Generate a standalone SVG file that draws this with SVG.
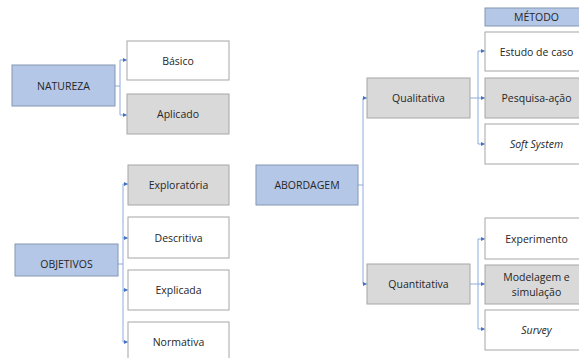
<svg xmlns="http://www.w3.org/2000/svg" width="579" height="358" viewBox="0 0 579 358">
<style>
.b{fill:#B4C7E7;stroke:#8497B0;stroke-width:1}
.g{fill:#D9D9D9;stroke:#A6A6A6;stroke-width:1}
.w{fill:#FFFFFF;stroke:#A6A6A6;stroke-width:1}
text{font-family:"Open Sans","Liberation Sans",sans-serif;font-size:10.5px;fill:#262626;text-anchor:middle;dominant-baseline:central}
.i{font-style:italic}
.c{fill:none;stroke:#8FAADC;stroke-width:1}
</style>
<defs>
<marker id="a" viewBox="0 0 6 6" refX="6" refY="3" markerWidth="4" markerHeight="4" orient="auto"><path d="M0,0 L6,3 L0,6 Z" fill="#4472C4"/></marker>
</defs>
<rect width="579" height="358" fill="#FFFFFF"/>
<g id="connectors">
<path class="c" d="M115,86 H120"/>
<path class="c" d="M120,60 V115"/>
<path class="c" d="M120,60 H127" marker-end="url(#a)"/>
<path class="c" d="M120,115 H127" marker-end="url(#a)"/>
<path class="c" d="M118,264 H123"/>
<path class="c" d="M123,184 V342"/>
<path class="c" d="M123,184 H128" marker-end="url(#a)"/>
<path class="c" d="M123,238 H128" marker-end="url(#a)"/>
<path class="c" d="M123,290 H128" marker-end="url(#a)"/>
<path class="c" d="M123,342 H128" marker-end="url(#a)"/>
<path class="c" d="M358,185 H363"/>
<path class="c" d="M363,98 V284"/>
<path class="c" d="M363,98 H367" marker-end="url(#a)"/>
<path class="c" d="M363,284 H367" marker-end="url(#a)"/>
<path class="c" d="M470,98 H478"/>
<path class="c" d="M478,51 V144"/>
<path class="c" d="M478,51 H485" marker-end="url(#a)"/>
<path class="c" d="M478,98 H485" marker-end="url(#a)"/>
<path class="c" d="M478,144 H485" marker-end="url(#a)"/>
<path class="c" d="M470,284 H478"/>
<path class="c" d="M478,239 V329"/>
<path class="c" d="M478,239 H485" marker-end="url(#a)"/>
<path class="c" d="M478,284 H485" marker-end="url(#a)"/>
<path class="c" d="M478,329 H485" marker-end="url(#a)"/>
</g>
<g id="natureza"><rect class="b" x="12" y="65" width="103" height="41"/><text x="63.5" y="85.5">NATUREZA</text></g>
<g id="basico"><rect class="w" x="127" y="41" width="102" height="39"/><text x="178" y="60.5">Básico</text></g>
<g id="aplicado"><rect class="g" x="127" y="94" width="102" height="40"/><text x="178" y="114">Aplicado</text></g>
<g id="objetivos"><rect class="b" x="15" y="244" width="103" height="32"/><text x="66.5" y="264">OBJETIVOS</text></g>
<g id="exploratoria"><rect class="g" x="128" y="165" width="101" height="40"/><text x="178.5" y="185">Exploratória</text></g>
<g id="descritiva"><rect class="w" x="128" y="217" width="101" height="41"/><text x="178.5" y="237.5">Descritiva</text></g>
<g id="explicada"><rect class="w" x="128" y="270" width="101" height="40"/><text x="178.5" y="290">Explicada</text></g>
<g id="normativa"><rect class="w" x="128" y="322" width="101" height="40"/><text x="178.5" y="342">Normativa</text></g>
<g id="abordagem"><rect class="b" x="256" y="165" width="102" height="40"/><text x="307" y="185">ABORDAGEM</text></g>
<g id="qualitativa"><rect class="g" x="367" y="78" width="103" height="40"/><text x="418.5" y="98">Qualitativa</text></g>
<g id="quantitativa"><rect class="g" x="367" y="264" width="103" height="40"/><text x="418.5" y="284">Quantitativa</text></g>
<g id="metodo"><rect class="b" x="485" y="8" width="103" height="18"/><text x="536.5" y="17">MÉTODO</text></g>
<g id="estudo"><rect class="w" x="485" y="32" width="103" height="39"/><text x="536.5" y="51.5">Estudo de caso</text></g>
<g id="pesquisa"><rect class="g" x="485" y="78" width="103" height="40"/><text x="536.5" y="98">Pesquisa-ação</text></g>
<g id="soft"><rect class="w" x="485" y="124" width="103" height="40"/><text class="i" x="536.5" y="144">Soft System</text></g>
<g id="experimento"><rect class="w" x="485" y="218" width="103" height="41"/><text x="536.5" y="238.5">Experimento</text></g>
<g id="modelagem"><rect class="g" x="485" y="265" width="103" height="39"/><text x="536.5" y="277">Modelagem e</text><text x="536.5" y="292">simulação</text></g>
<g id="survey"><rect class="w" x="485" y="310" width="103" height="40"/><text class="i" x="536.5" y="330">Survey</text></g>
</svg>
